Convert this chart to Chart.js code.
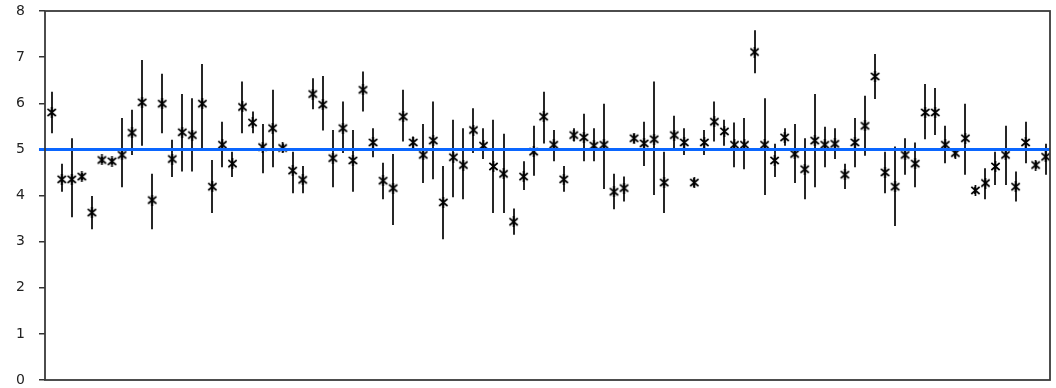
<!DOCTYPE html>
<html>
<head>
<meta charset="utf-8">
<script src="https://cdn.jsdelivr.net/npm/chart.js@4/dist/chart.umd.min.js"></script>
<style>
  html, body { margin: 0; padding: 0; background: #fff; }
  #c { display: block; }
</style>
</head>
<body>
<canvas id="c" width="1056" height="388"></canvas>
<script>
// Sample means with their lower and upper interval limits, one per sample.
const sampleIndex = Array.from({ length: 100 }, (_, i) => i + 1);

const means = [
  5.80, 4.35, 4.35, 4.41, 3.63, 4.77, 4.74, 4.88, 5.36, 6.02,
  3.90, 5.99, 4.79, 5.37, 5.31, 5.99, 4.19, 5.10, 4.69, 5.92,
  5.58, 5.05, 5.46, 5.03, 4.54, 4.34, 6.20, 5.97, 4.81, 5.46,
  4.76, 6.29, 5.15, 4.32, 4.16, 5.71, 5.15, 4.88, 5.19, 3.85,
  4.83, 4.66, 5.42, 5.08, 4.63, 4.47, 3.43, 4.41, 4.95, 5.71,
  5.10, 4.35, 5.31, 5.26, 5.08, 5.10, 4.08, 4.16, 5.24, 5.13,
  5.22, 4.28, 5.31, 5.15, 4.28, 5.15, 5.60, 5.39, 5.10, 5.10,
  7.11, 5.10, 4.76, 5.26, 4.90, 4.57, 5.19, 5.10, 5.12, 4.45,
  5.15, 5.51, 6.58, 4.50, 4.19, 4.88, 4.69, 5.80, 5.80, 5.10,
  4.92, 5.24, 4.11, 4.27, 4.63, 4.88, 4.19, 5.15, 4.66, 4.84
];

const lowerLimits = [
  5.35, 4.08, 3.53, 4.33, 3.27, 4.70, 4.67, 4.18, 4.88, 5.08,
  3.27, 5.35, 4.40, 4.52, 4.52, 5.03, 3.62, 4.61, 4.40, 5.35,
  5.35, 4.48, 4.61, 4.93, 4.05, 4.05, 5.87, 5.41, 4.18, 4.92,
  4.08, 5.82, 4.83, 3.92, 3.36, 5.17, 5.03, 4.27, 4.35, 3.05,
  3.96, 3.92, 4.92, 4.79, 3.62, 3.62, 3.15, 4.12, 4.43, 5.13,
  4.74, 4.08, 5.17, 4.74, 4.74, 4.14, 3.70, 3.87, 5.14, 4.64,
  4.01, 3.62, 5.03, 4.88, 4.18, 4.88, 5.17, 5.08, 4.61, 4.57,
  6.65, 4.01, 4.40, 5.08, 4.27, 3.92, 4.18, 4.61, 4.79, 4.14,
  4.61, 4.86, 6.09, 4.05, 3.34, 4.45, 4.18, 5.22, 5.31, 4.70,
  4.82, 4.45, 4.03, 3.92, 4.23, 4.23, 3.87, 4.70, 4.58, 4.45
];

const upperLimits = [
  6.25, 4.69, 5.24, 4.49, 3.99, 4.84, 4.81, 5.68, 5.86, 6.94,
  4.47, 6.64, 5.21, 6.20, 6.11, 6.85, 4.77, 5.60, 4.95, 6.47,
  5.82, 5.55, 6.29, 5.13, 4.95, 4.64, 6.54, 6.59, 5.42, 6.04,
  5.42, 6.69, 5.46, 4.71, 4.90, 6.29, 5.28, 5.55, 6.04, 4.64,
  5.64, 5.46, 5.89, 5.46, 5.64, 5.34, 3.72, 4.74, 5.51, 6.25,
  5.42, 4.64, 5.46, 5.77, 5.46, 5.99, 4.47, 4.41, 5.34, 5.60,
  6.47, 4.95, 5.73, 5.46, 4.38, 5.42, 6.04, 5.64, 5.58, 5.68,
  7.58, 6.11, 5.12, 5.46, 5.55, 5.24, 6.20, 5.49, 5.46, 4.69,
  5.68, 6.16, 7.07, 4.95, 5.06, 5.24, 5.15, 6.42, 6.33, 5.51,
  5.02, 5.99, 4.19, 4.59, 4.95, 5.51, 4.52, 5.60, 4.74, 5.12
];

// Reference level drawn across the plot.
const referenceLevel = 5;

const yTicks = [0, 1, 2, 3, 4, 5, 6, 7, 8];

// Asterisk-like marker: a diagonal cross with a vertical stroke through it.
function makeMarker() {
  const s = 11;
  const m = document.createElement('canvas');
  m.width = s; m.height = s;
  const g = m.getContext('2d');
  g.strokeStyle = '#000';
  g.lineWidth = 1.7;
  g.lineCap = 'square';
  g.beginPath();
  g.moveTo(2, 2.5); g.lineTo(9, 8.5);
  g.moveTo(9, 2.5); g.lineTo(2, 8.5);
  g.moveTo(5.5, 0.5); g.lineTo(5.5, 10.5);
  g.stroke();
  return m;
}

// Vertical interval bars, placed with the chart's own x and y scales.
const intervalPlugin = {
  id: 'intervals',
  beforeDatasetsDraw(chart) {
    const { ctx, scales: { x, y } } = chart;
    ctx.save();
    ctx.strokeStyle = '#262626';
    ctx.lineWidth = 2;
    ctx.beginPath();
    sampleIndex.forEach((xi, i) => {
      const px = Math.round(x.getPixelForValue(xi));
      ctx.moveTo(px, y.getPixelForValue(upperLimits[i]));
      ctx.lineTo(px, y.getPixelForValue(lowerLimits[i]));
    });
    ctx.stroke();
    ctx.restore();
  }
};

// Closed frame around the plotting area.
const framePlugin = {
  id: 'frame',
  afterDraw(chart) {
    const { ctx, chartArea: a } = chart;
    ctx.save();
    ctx.strokeStyle = '#3a3a3a';
    ctx.lineWidth = 1.8;
    ctx.strokeRect(a.left, a.top, a.right - a.left, a.bottom - a.top);
    ctx.restore();
  }
};

const xMin = 0.33, xMax = 100.43;

new Chart(document.getElementById('c'), {
  type: 'scatter',
  data: {
    datasets: [
      {
        type: 'line',
        data: [{ x: xMin - 0.6, y: referenceLevel }, { x: xMax, y: referenceLevel }],
        borderColor: '#0a66ff',
        borderWidth: 3,
        pointRadius: 0,
        clip: false,
        order: 0
      },
      {
        type: 'scatter',
        data: sampleIndex.map((xv, i) => ({ x: xv, y: means[i] })),
        pointStyle: makeMarker(),
        pointRadius: 5,
        order: 1
      }
    ]
  },
  options: {
    responsive: false,
    animation: false,
    layout: { padding: { top: 11, right: 6, bottom: 8, left: 0 } },
    plugins: { legend: { display: false }, tooltip: { enabled: false } },
    scales: {
      x: { type: 'linear', min: xMin, max: xMax, display: false },
      y: {
        min: 0,
        max: 8,
        afterBuildTicks(axis) { axis.ticks = yTicks.map(v => ({ value: v })); },
        afterFit(axis) {
          axis.width = 45;
          axis.paddingTop = 0;
          axis.paddingBottom = 0;
        },
        border: { display: false },
        grid: {
          drawOnChartArea: false,
          drawTicks: true,
          tickLength: 6,
          color: '#333',
          lineWidth: 1.5
        },
        ticks: {
          padding: 14,
          color: '#222',
          font: { family: 'DejaVu Sans', size: 14 }
        }
      }
    }
  },
  plugins: [intervalPlugin, framePlugin]
});
</script>
</body>
</html>
